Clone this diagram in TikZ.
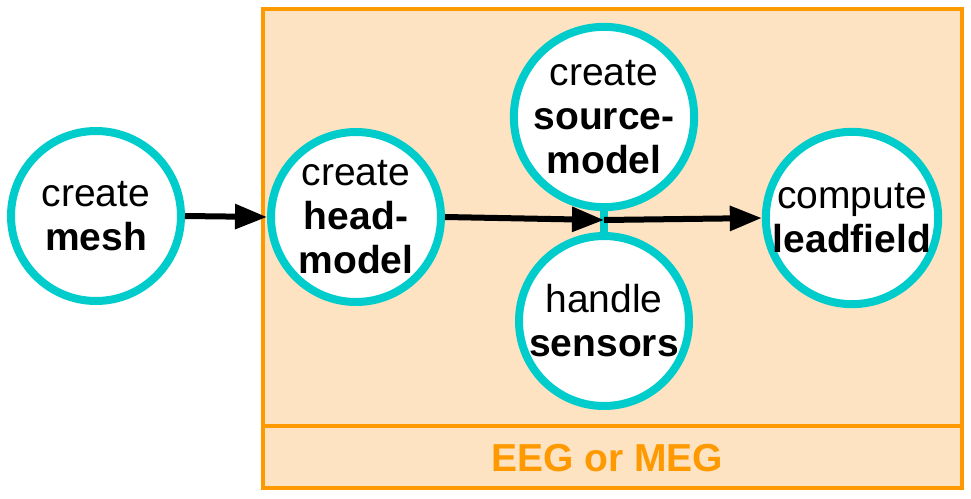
\documentclass[tikz,border=0pt]{standalone}
\usepackage{fontspec}
\setmainfont{Liberation Sans}
\usetikzlibrary{arrows.meta}
\definecolor{teal1}{HTML}{00CCCC}
\definecolor{orng}{HTML}{FF9900}
\definecolor{bisq}{HTML}{FDE3C1}
\tikzset{
  stage/.style={circle, draw=teal1, line width=8pt, fill=white, minimum size=170pt, inner sep=0pt, align=center, font=\fontsize{39}{44}\selectfont},
  flow/.style={line width=6pt, -{Triangle[length=32pt,width=24pt]}},
  link/.style={draw=teal1, line width=8pt},
  group/.style={draw=orng, line width=3.5pt, fill=bisq}
}
\begin{document}
\begin{tikzpicture}[x=1pt,y=-1pt]
\useasboundingbox (0,0) rectangle (971,498);
\draw[group] (263,9) rectangle (962,488);
\draw[draw=orng, line width=3.5pt] (263,426) -- (962,426);
\node[text=orng, font=\fontsize{39}{44}\selectfont\bfseries] (lbl) at (607,458) {EEG or MEG};
\node[stage] (mesh) at (96,216) {create\\\textbf{mesh}};
\node[stage] (head) at (356,217) {create\\\textbf{head-}\\\textbf{model}};
\node[stage] (src) at (604,117) {create\\\textbf{source-}\\\textbf{model}};
\node[stage] (sens) at (604,321) {handle\\\textbf{sensors}};
\node[stage] (lf) at (852,218) {compute\\\textbf{leadfield}};
\draw[link] (src.south) -- (sens.north);
\coordinate (j) at (604,220);
\draw[flow] (mesh.east) -- (head.west);
\draw[flow] (head.east) -- (j);
\draw[flow] (j) -- (lf.west);
\end{tikzpicture}
\end{document}
